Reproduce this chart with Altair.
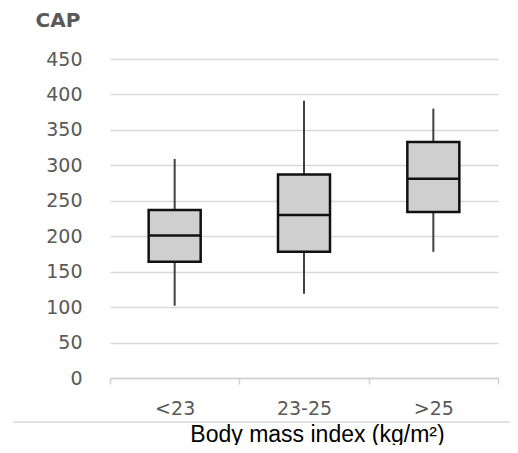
import altair as alt
import pandas as pd

categories = ["<23", "23-25", ">25"]
whisker_low = [102, 119, 178]
q1 = [164, 178, 234]
median = [201, 230, 281]
q3 = [237, 287, 333]
whisker_high = [309, 391, 380]
y_ticks = [0, 50, 100, 150, 200, 250, 300, 350, 400, 450]

df = pd.DataFrame({
    "bmi": categories,
    "low": whisker_low,
    "q1": q1,
    "median": median,
    "q3": q3,
    "high": whisker_high,
})

label_font = "DejaVu Sans"
gray_text = "#595959"

x_axis = alt.Axis(
    title="Body mass index (kg/m²)",
    titleFont="Liberation Sans",
    titleFontSize=23,
    titleFontWeight="normal",
    titleColor="#000000",
    titleX=207,
    titleY=63,
    titleAlign="center",
    titleBaseline="alphabetic",
    labelAngle=0,
    labelFont=label_font,
    labelFontSize=19,
    labelColor=gray_text,
    labelPadding=15,
    domainColor="#d0d0d0",
    domainWidth=1.5,
    tickColor="#d0d0d0",
    tickWidth=1.5,
    tickSize=6,
    tickBand="extent",
    grid=False,
)

y_scale = alt.Scale(domain=[0, 450], nice=False)
y_axis = alt.Axis(
    values=y_ticks,
    title="CAP",
    titleAngle=0,
    titleFont=label_font,
    titleFontSize=20,
    titleFontWeight="bold",
    titleColor=gray_text,
    titleAlign="left",
    titleBaseline="middle",
    titleX=-75,
    titleY=-39,
    labelFont=label_font,
    labelFontSize=19,
    labelColor=gray_text,
    labelPadding=28,
    labelOverlap=False,
    domain=False,
    ticks=False,
    gridColor="#d9d9d9",
    gridWidth=1.5,
)

x_enc = alt.X("bmi:N", sort=categories,
              scale=alt.Scale(paddingInner=0, paddingOuter=0), axis=x_axis)

base = alt.Chart(df)

whiskers = base.mark_rule(color="#404040", strokeWidth=2).encode(
    x=x_enc,
    y=alt.Y("low:Q", scale=y_scale, axis=y_axis),
    y2="high:Q",
)

boxes = base.mark_bar(size=52, color="#cfcfcf", stroke="#111111", strokeWidth=2.5,
                      opacity=1).encode(
    x=x_enc,
    y=alt.Y("q1:Q", scale=y_scale, axis=y_axis),
    y2="q3:Q",
)

medians = base.mark_tick(size=52, thickness=2.5, color="#111111", opacity=1).encode(
    x=x_enc,
    y=alt.Y("median:Q", scale=y_scale, axis=y_axis),
)

separator = alt.Chart(pd.DataFrame({"k": [0]})).mark_rule(
    color="#d9d9d9", strokeWidth=1.5, clip=False
).encode(
    x=alt.value(-97),
    x2=alt.value(410),
    y=alt.value(363),
)

chart = alt.layer(whiskers, boxes, medians, separator).properties(
    width=388,
    height=319,
    autosize=alt.AutoSizeParams(type="none"),
    padding={"left": 102, "top": 51, "right": 12, "bottom": 67},
).configure_view(stroke=None)

chart.save("out.html", embed_options={"renderer": "svg", "actions": False})
